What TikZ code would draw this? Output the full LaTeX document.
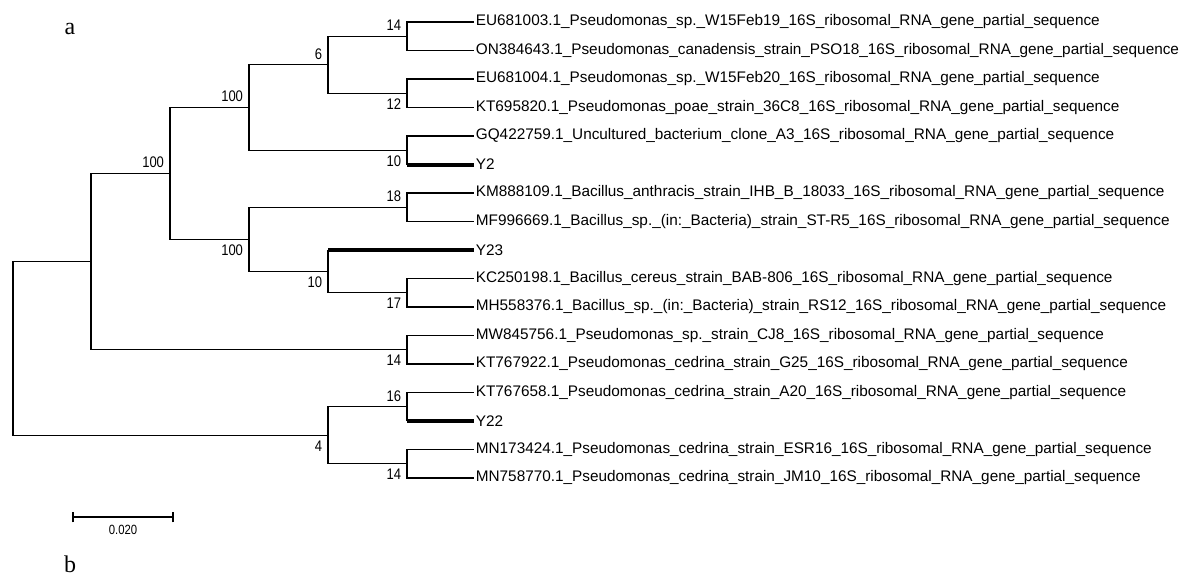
\documentclass[tikz,border=0pt]{standalone}
\usepackage{fontspec}
\setmainfont{Liberation Sans}
\newfontfamily\panelfont{Liberation Serif}
\newfontfamily\bootfont[FakeStretch=0.85]{Liberation Sans}

\tikzset{
  branch/.style={line width=0.9pt},
  target/.style={line width=3pt},
  leaf/.style={anchor=west, inner ysep=0pt, inner xsep=1.2pt, font=\fontsize{11.5}{13}\selectfont},
  boot/.style={inner xsep=4.3pt, inner ysep=4pt, font=\bootfont\fontsize{11.5}{13}\selectfont},
  bootup/.style={boot, anchor=south east},
  bootdown/.style={boot, anchor=north east},
  panel/.style={font=\panelfont\fontsize{18}{20}\selectfont},
}

\begin{document}
\begin{tikzpicture}[x=0.75pt,y=-0.75pt]
\useasboundingbox (0,0) rectangle (1182,575);

% Feuilles
\foreach \i/\name in {
1/EU681003.1\_Pseudomonas\_sp.\_W15Feb19\_16S\_ribosomal\_RNA\_gene\_partial\_sequence,
2/ON384643.1\_Pseudomonas\_canadensis\_strain\_PSO18\_16S\_ribosomal\_RNA\_gene\_partial\_sequence,
3/EU681004.1\_Pseudomonas\_sp.\_W15Feb20\_16S\_ribosomal\_RNA\_gene\_partial\_sequence,
4/KT695820.1\_Pseudomonas\_poae\_strain\_36C8\_16S\_ribosomal\_RNA\_gene\_partial\_sequence,
5/GQ422759.1\_Uncultured\_bacterium\_clone\_A3\_16S\_ribosomal\_RNA\_gene\_partial\_sequence,
6/Y2,
7/KM888109.1\_Bacillus\_anthracis\_strain\_IHB\_B\_18033\_16S\_ribosomal\_RNA\_gene\_partial\_sequence,
8/MF996669.1\_Bacillus\_sp.\_(in:\_Bacteria)\_strain\_ST-R5\_16S\_ribosomal\_RNA\_gene\_partial\_sequence,
9/Y23,
10/KC250198.1\_Bacillus\_cereus\_strain\_BAB-806\_16S\_ribosomal\_RNA\_gene\_partial\_sequence,
11/MH558376.1\_Bacillus\_sp.\_(in:\_Bacteria)\_strain\_RS12\_16S\_ribosomal\_RNA\_gene\_partial\_sequence,
12/MW845756.1\_Pseudomonas\_sp.\_strain\_CJ8\_16S\_ribosomal\_RNA\_gene\_partial\_sequence,
13/KT767922.1\_Pseudomonas\_cedrina\_strain\_G25\_16S\_ribosomal\_RNA\_gene\_partial\_sequence,
14/KT767658.1\_Pseudomonas\_cedrina\_strain\_A20\_16S\_ribosomal\_RNA\_gene\_partial\_sequence,
15/Y22,
16/MN173424.1\_Pseudomonas\_cedrina\_strain\_ESR16\_16S\_ribosomal\_RNA\_gene\_partial\_sequence,
17/MN758770.1\_Pseudomonas\_cedrina\_strain\_JM10\_16S\_ribosomal\_RNA\_gene\_partial\_sequence}
{
    \node[leaf] (l\i) at (474,{22+28.5*(\i-1)}) {\name};
}

% Noeuds internes
\coordinate (p1) at (407,36.25);
\coordinate (p2) at (407,93.25);
\coordinate (p3) at (407,150.25);
\coordinate (p4) at (407,207.25);
\coordinate (p5) at (407,292.75);
\coordinate (p6) at (407,349.75);
\coordinate (p7) at (407,406.75);
\coordinate (p8) at (407,463.75);
\coordinate (n4) at (328,64.75);
\coordinate (n3) at (249,107.5);
\coordinate (n6) at (328,271.4);
\coordinate (n5) at (249,239.3);
\coordinate (n2) at (170,173.4);
\coordinate (n1) at (91,261.6);
\coordinate (n7) at (328,435.25);
\coordinate (root) at (13,348.4);

% Branches
\draw[branch] (root) |- (n1);
\draw[branch] (root) |- (n7);
\draw[branch] (n1) |- (n2);
\draw[branch] (n1) |- (p6);
\draw[branch] (n2) |- (n3);
\draw[branch] (n2) |- (n5);
\draw[branch] (n3) |- (n4);
\draw[branch] (n3) |- (p3);
\draw[branch] (n4) |- (p1);
\draw[branch] (n4) |- (p2);
\draw[branch] (n5) |- (p4);
\draw[branch] (n5) |- (n6);
\draw[branch] (n6) |- (p5);
\draw[branch] (n6) -- (n6 |- l9.west);
\draw[branch] (n7) |- (p7);
\draw[branch] (n7) |- (p8);

\foreach \p/\a/\b in {p1/1/2,p2/3/4,p4/7/8,p5/10/11,p6/12/13,p8/16/17}
{
    \draw[branch] (\p) |- (l\a.west);
    \draw[branch] (\p) |- (l\b.west);
}
\draw[branch] (p3) |- (l5.west);
\draw[branch] (p3) -- (p3 |- l6.west);
\draw[branch] (p7) |- (l14.west);
\draw[branch] (p7) -- (p7 |- l15.west);

% Isolats
\draw[target] (p3 |- l6.west) -- (l6.west);
\draw[target] (n6 |- l9.west) -- (l9.west);
\draw[target] (p7 |- l15.west) -- (l15.west);

% Valeurs bootstrap
\node[bootup] (b1) at (p1) {14};
\node[bootdown] (b2) at (p2) {12};
\node[bootdown] (b3) at (p3) {10};
\node[bootup] (b4) at (p4) {18};
\node[bootdown] (b5) at (p5) {17};
\node[bootdown] (b6) at (p6) {14};
\node[bootup] (b7) at (p7) {16};
\node[bootdown] (b8) at (p8) {14};
\node[bootup] (b9) at (n4) {6};
\node[bootup] (b10) at (n3) {100};
\node[bootup] (b11) at (n2) {100};
\node[bootdown] (b13) at (n5) {100};
\node[bootdown] (b14) at (n6) {10};
\node[bootdown] (b15) at (n7) {4};

% Echelle
\coordinate (s0) at (73,517);
\coordinate (s1) at (173,517);
\draw[branch] (s0) -- (s1);
\draw[branch] ([yshift=-4pt]s0) -- ([yshift=4pt]s0);
\draw[branch] ([yshift=-4pt]s1) -- ([yshift=4pt]s1);
\node[font=\bootfont\fontsize{10}{12}\selectfont] (scale) at (123,530) {0.020};

% Panneaux
\node[panel] (pa) at (70,29) {a};
\node[panel] (pb) at (70,564) {b};

\end{tikzpicture}
\end{document}
